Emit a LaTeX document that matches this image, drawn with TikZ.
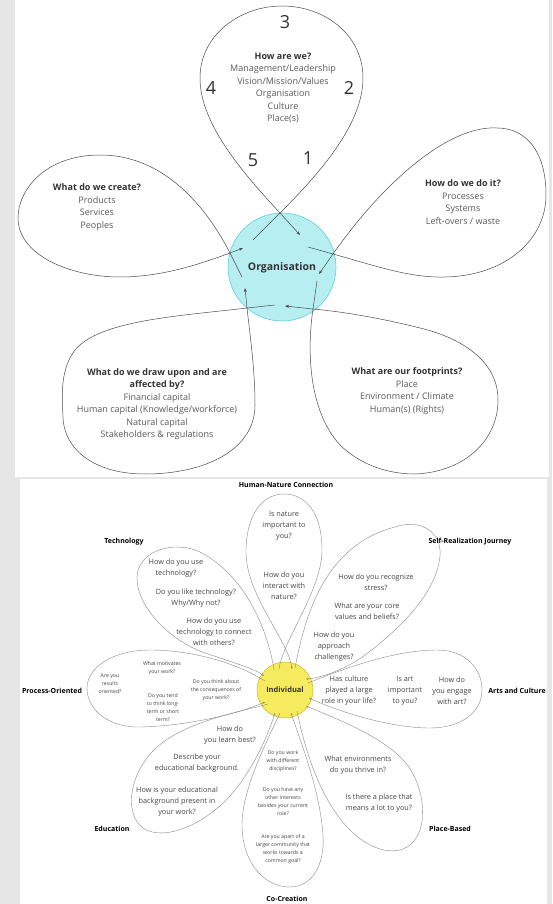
\documentclass[tikz,border=0pt]{standalone}
\usepackage{fontspec}
\setmainfont{Open Sans}
\usetikzlibrary{arrows.meta}
\definecolor{bgc}{HTML}{E6E6E6}
\definecolor{cyanfill}{HTML}{B6EEF2}
\definecolor{cyanline}{HTML}{5CD0D8}
\definecolor{yelfill}{HTML}{F6EA5E}
\definecolor{yelline}{HTML}{C9B72A}
\definecolor{ttl}{HTML}{333333}
\definecolor{bodyc}{HTML}{5A5A5A}
\definecolor{bodyb}{HTML}{444444}
\definecolor{linec}{HTML}{4A4A4A}
\definecolor{linecb}{HTML}{8A8A8A}
\begin{document}
\begin{tikzpicture}[x=1pt,y=-1pt,
  petal/.style={draw=linec, line width=0.5pt},
  bpetal/.style={draw=linecb, line width=0.4pt},
  arr/.style={-{Stealth[length=4pt,width=3pt]}},
  barr/.style={-{Stealth[length=2.6pt,width=2pt]}},
  tx/.style={align=center, inner sep=0pt, text=bodyc, font=\fontsize{9}{12.5}\selectfont},
  num/.style={inner sep=0pt, text=ttl, font=\fontsize{18}{18}\selectfont},
  btx/.style={align=center, inner sep=0pt, text=bodyb, font=\fontsize{7.3}{11}\selectfont},
  stx/.style={align=center, inner sep=0pt, text=bodyb, font=\fontsize{5.2}{8}\selectfont},
  lab/.style={inner sep=0pt, text=black, font=\fontsize{7}{8}\selectfont\bfseries}]
\useasboundingbox (0,0) rectangle (552,904);
\fill[bgc] (0,0) rectangle (552,904);
\fill[white] (15,0) rectangle (549,477);
\fill[white] (20,479) rectangle (547,904);

% ===== top flower =====
\node[circle, fill=cyanfill, draw=cyanline, line width=0.6pt, minimum size=108pt, inner sep=0pt] (org) at (282,267) {};

\coordinate (t1s) at (253,240); \coordinate (t1x) at (280,213); \coordinate (t1e) at (300,235);
\draw[petal, arr] (t1s) -- (t1x) .. controls (318,175) and (363,125) .. (363,78)
  .. controls (363,35) and (325,6) .. (282,6) .. controls (240,6) and (200,35) .. (200,78)
  .. controls (200,125) and (245,175) .. (t1x) -- (t1e);

\coordinate (t2s) at (242,277); \coordinate (t2x) at (230,253); \coordinate (t2e) at (243,248);
\draw[petal, arr] (t2s) -- (t2x) .. controls (216,226) and (175,155) .. (100,155)
  .. controls (45,155) and (18,190) .. (18,218) .. controls (18,255) and (70,277) .. (120,277)
  .. controls (165,277) and (205,262) .. (t2x) -- (t2e);

\coordinate (t3s) at (308,247); \coordinate (t3x) at (333,254); \coordinate (t3e) at (319,274);
\draw[petal, arr] (t3s) -- (t3x) .. controls (376,266) and (410,278) .. (445,277)
  .. controls (505,276) and (546,240) .. (546,195) .. controls (546,150) and (525,128) .. (497,128)
  .. controls (450,125) and (385,180) .. (t3x) -- (t3e);

\coordinate (t4s) at (275,305); \coordinate (t4x) at (247,308); \coordinate (t4e) at (245,288);
\draw[petal, arr] (t4s) -- (t4x) .. controls (180,316) and (100,320) .. (75,350)
  .. controls (60,370) and (62,395) .. (63,417) .. controls (64,450) and (95,474) .. (145,474)
  .. controls (205,474) and (255,450) .. (255,405) .. controls (255,370) and (250,335) .. (t4x) -- (t4e);

\coordinate (t5s) at (317,281); \coordinate (t5x) at (313,309); \coordinate (t5e) at (285,306);
\draw[petal, arr] (t5s) -- (t5x) .. controls (307,349) and (308,410) .. (340,445)
  .. controls (365,469) and (395,474) .. (415,474) .. controls (465,472) and (498,440) .. (498,400)
  .. controls (498,355) and (450,335) .. (420,328) .. controls (380,318) and (345,312) .. (t5x) -- (t5e);

\node[inner sep=0pt, text=ttl, font=\fontsize{10.5}{12}\selectfont\bfseries] (orgt) at (282,268) {Organisation};

\node[num] (n3) at (285,22) {3};
\node[num] (n2) at (349,88) {2};
\node[num] (n4) at (211,88) {4};
\node[num] (n5) at (253,160) {5};
\node[num] (n1) at (308,158) {1};

\node[tx] (ptop) at (283,88) {\textcolor{ttl}{\bfseries How are we?}\\Management/Leadership\\Vision/Mission/Values\\Organisation\\Culture\\Place(s)};
\node[tx] (pleft) at (97,207) {\textcolor{ttl}{\bfseries What do we create?}\\Products\\Services\\Peoples};
\node[tx] (pright) at (463,202) {\textcolor{ttl}{\bfseries How do we do it?}\\Processes\\Systems\\Left-overs / waste};
\node[tx] (pbl) at (157,404) {\textcolor{ttl}{\bfseries What do we draw upon and are}\\\textcolor{ttl}{\bfseries affected by?}\\Financial capital\\Human capital (Knowledge/workforce)\\Natural capital\\Stakeholders \& regulations};
\node[tx] (pbr) at (407,391) {\textcolor{ttl}{\bfseries What are our footprints?}\\Place\\Environment / Climate\\Human(s) (Rights)};

% ===== bottom flower =====
\node[circle, fill=yelfill, draw=yelline, line width=0.5pt, minimum size=56pt, inner sep=0pt] (ind) at (285,690) {};

% Human-Nature
\coordinate (a1) at (279,669); \coordinate (b1) at (292,669);
\draw[bpetal, barr] (a1) .. controls (283,640) and (322,590) .. (322,550)
  .. controls (322,512) and (305,494) .. (284,494) .. controls (262,494) and (246,515) .. (246,552)
  .. controls (246,595) and (288,640) .. (b1);
% Technology
\coordinate (a2) at (274,670); \coordinate (b2) at (264,676);
\draw[bpetal, barr] (a2) .. controls (268,630) and (245,575) .. (200,552)
  .. controls (175,540) and (138,550) .. (137,577) .. controls (136,605) and (168,640) .. (205,653)
  .. controls (235,663) and (255,669) .. (b2);
% Process
\coordinate (a3) at (265,681); \coordinate (b3) at (265,702);
\draw[bpetal, barr] (a3) .. controls (235,662) and (190,650) .. (150,650)
  .. controls (112,650) and (87,668) .. (87,688) .. controls (87,712) and (112,728) .. (140,727)
  .. controls (185,726) and (235,715) .. (b3);
% Education
\coordinate (a4) at (268,704); \coordinate (b4) at (275,713);
\draw[bpetal, barr] (a4) .. controls (240,712) and (180,722) .. (152,752)
  .. controls (128,778) and (125,815) .. (143,828) .. controls (165,843) and (210,822) .. (235,790)
  .. controls (255,765) and (268,735) .. (b4);
% Co-Creation
\coordinate (a5) at (280,713); \coordinate (b5) at (291,713);
\draw[bpetal, barr] (a5) .. controls (265,745) and (242,790) .. (242,825)
  .. controls (242,860) and (262,887) .. (290,887) .. controls (312,887) and (325,865) .. (323,835)
  .. controls (320,790) and (300,740) .. (b5);
% Place-Based
\coordinate (a6) at (297,711); \coordinate (b6) at (306,706);
\draw[bpetal, barr] (a6) .. controls (305,750) and (320,800) .. (350,830)
  .. controls (370,850) and (395,857) .. (410,845) .. controls (428,830) and (425,795) .. (412,772)
  .. controls (395,742) and (345,722) .. (b6);
% Arts
\coordinate (a7) at (308,683); \coordinate (b7) at (309,698);
\draw[bpetal, barr] (a7) .. controls (345,668) and (395,650) .. (437,650)
  .. controls (465,650) and (482,668) .. (482,690) .. controls (482,713) and (460,728) .. (430,728)
  .. controls (390,728) and (340,712) .. (b7);
% Self-Realization
\coordinate (a8) at (295,668); \coordinate (b8) at (306,679);
\draw[bpetal, barr] (a8) .. controls (305,615) and (325,545) .. (395,527)
  .. controls (422,518) and (442,533) .. (440,556) .. controls (437,590) and (405,625) .. (365,655)
  .. controls (345,670) and (320,678) .. (b8);

\node[inner sep=0pt, text=ttl, font=\fontsize{7.5}{9}\selectfont\bfseries] (indt) at (285,690) {Individual};

% labels
\node[lab] (l1) at (286,485) {Human-Nature Connection};
\node[lab] (l2) at (124,542) {Technology};
\node[lab] (l3) at (470,542) {Self-Realization Journey};
\node[lab] (l4) at (52,691) {Process-Oriented};
\node[lab] (l5) at (517,691) {Arts and Culture};
\node[lab] (l6) at (112,829) {Education};
\node[lab] (l7) at (450,829) {Place-Based};
\node[lab] (l8) at (287,899) {Co-Creation};

% petal texts
\node[btx] (q1a) at (284,526) {Is nature\\important to\\you?};
\node[btx] (q1b) at (284,586) {How do you\\interact with\\nature?};
\node[btx] (q2a) at (176,568) {How do you use\\technology?};
\node[btx] (q2b) at (196,598) {Do you like technology?\\Why/Why not?};
\node[btx] (q2c) at (214,632) {How do you use\\technology to connect\\with others?};
\node[btx] (q3a) at (376,582) {How do you recognize\\stress?};
\node[btx] (q3b) at (367,611) {What are your core\\values and beliefs?};
\node[btx] (q3c) at (334,647) {How do you\\approach\\challenges?};
\node[btx] (q4a) at (349,691) {Has culture\\played a large\\role in your life?};
\node[btx] (q4b) at (405,691) {Is art\\important\\to you?};
\node[btx] (q4c) at (452,691) {How do\\you engage\\with art?};
\node[btx] (q5a) at (358,765) {What environments\\do you thrive in?};
\node[btx] (q5b) at (379,803) {Is there a place that\\means a lot to you?};
\node[btx] (q6a) at (230,735) {How do\\you learn best?};
\node[btx] (q6b) at (197,763) {Describe your\\educational background.};
\node[btx] (q6c) at (177,802) {How is your educational\\background present in\\your work?};
\node[stx] (q7a) at (283,761) {Do you work\\with different\\disciplines?};
\node[stx] (q7b) at (283,802) {Do you have any\\other interests\\besides your current\\role?};
\node[stx] (q7c) at (283,849) {Are you apart of a\\larger community that\\works towards a\\common goal?};
\node[stx] (q8a) at (162,668) {What motivates\\your work?};
\node[stx] (q8b) at (110,684) {Are you\\results\\oriented?};
\node[stx] (q8c) at (216,690) {Do you think about\\the consequences of\\your work?};
\node[stx] (q8d) at (163,708) {Do you tend\\to think long-\\term or short\\term?};
\end{tikzpicture}
\end{document}
